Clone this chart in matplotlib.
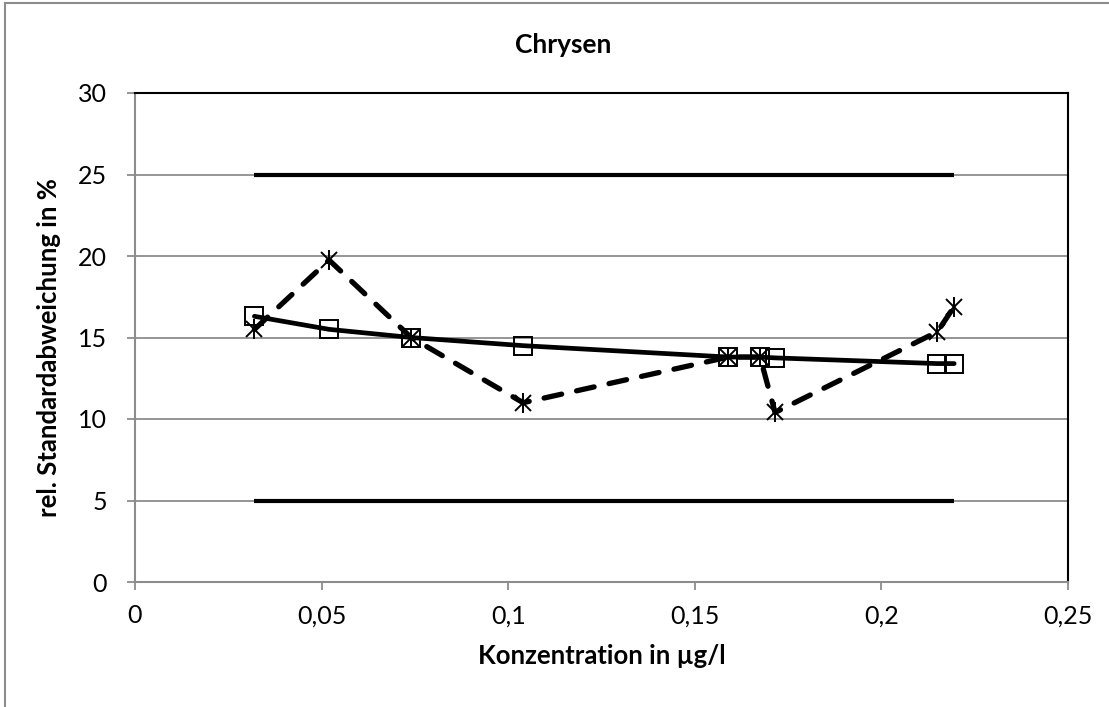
import matplotlib
matplotlib.use("Agg")
import matplotlib.pyplot as plt
from matplotlib.lines import Line2D
from matplotlib.ticker import FuncFormatter

plt.rcParams['font.family'] = ['Lato', 'DejaVu Sans']

# Data
x_conc = [0.032, 0.052, 0.074, 0.104, 0.159, 0.1675, 0.1715, 0.215, 0.2195]
rsd_fit = [16.3, 15.5, 15.0, 14.5, 13.8, 13.8, 13.75, 13.4, 13.4]
rsd_meas = [15.5, 19.75, 15.0, 11.0, 13.8, 13.8, 10.4, 15.35, 16.9]
limit_x = [0.032, 0.2195]
upper_limit = [25, 25]
lower_limit = [5, 5]
x_ticks = [0, 0.05, 0.1, 0.15, 0.2, 0.25]
y_ticks = [0, 5, 10, 15, 20, 25, 30]

W, H = 1109, 707
fig = plt.figure(figsize=(W / 100, H / 100), dpi=100)
ax = fig.add_axes([135 / W, 1 - 582 / H, (1068 - 135) / W, (582 - 93) / H])

ax.set_xlim(0, 0.25)
ax.set_ylim(0, 30)
ax.set_xticks(x_ticks)
ax.set_yticks(y_ticks)
ax.yaxis.grid(True, color='#8c8c8c', linewidth=1.3)
ax.set_axisbelow(True)

ax.plot(limit_x, upper_limit, color='black', lw=3, solid_capstyle='butt', zorder=3)
ax.plot(limit_x, lower_limit, color='black', lw=3, solid_capstyle='butt', zorder=3)

ax.plot(x_conc, rsd_meas, color='black', lw=3.8, dashes=(3.4, 2.9), dash_capstyle='round',
        zorder=4)
ax.plot(x_conc, rsd_meas, linestyle='none', marker='x', markersize=12, markeredgewidth=1.4,
        markeredgecolor='black', zorder=4)
ax.plot(x_conc, rsd_meas, linestyle='none', marker='|', markersize=15, markeredgewidth=1.4,
        markeredgecolor='black', zorder=4)
ax.plot(x_conc, rsd_fit, color='black', lw=3.4, solid_capstyle='round',
        marker='s', markersize=13, markerfacecolor='none', markeredgewidth=1.4,
        markeredgecolor='black', zorder=5)

def fmt(v, pos):
    s = ('%g' % round(v, 4))
    return s.replace('.', ',')

ax.xaxis.set_major_formatter(FuncFormatter(fmt))
ax.yaxis.set_major_formatter(FuncFormatter(fmt))
ax.tick_params(axis='both', direction='out', length=6, width=1.3, color='#8c8c8c',
               labelsize=18, labelcolor='black')
ax.tick_params(axis='x', pad=10)
ax.tick_params(axis='y', pad=14)

for side in ['left', 'bottom']:
    ax.spines[side].set_color('#8c8c8c')
    ax.spines[side].set_linewidth(1.5)
for side in ['top', 'right']:
    ax.spines[side].set_color('black')
    ax.spines[side].set_linewidth(1.5)

ax.set_xlabel('Konzentration in µg/l', fontsize=18.5, fontweight='bold', labelpad=12)
ax.set_ylabel('rel. Standardabweichung in %', fontsize=18.5, fontweight='bold')
ax.yaxis.set_label_coords(61 / W, 1 - 348 / H, transform=fig.transFigure)
fig.text(563 / W, 1 - 45 / H, 'Chrysen', fontsize=19, fontweight='bold',
         ha='center', va='center')

# chart frame
fig.add_artist(Line2D([5 / W, 1], [1 - 3 / H, 1 - 3 / H], transform=fig.transFigure,
                      color='#8c8c8c', lw=1.5))
fig.add_artist(Line2D([5 / W, 5 / W], [0, 1 - 3 / H], transform=fig.transFigure,
                      color='#8c8c8c', lw=1.5))

fig.savefig('out.png', dpi=100)
